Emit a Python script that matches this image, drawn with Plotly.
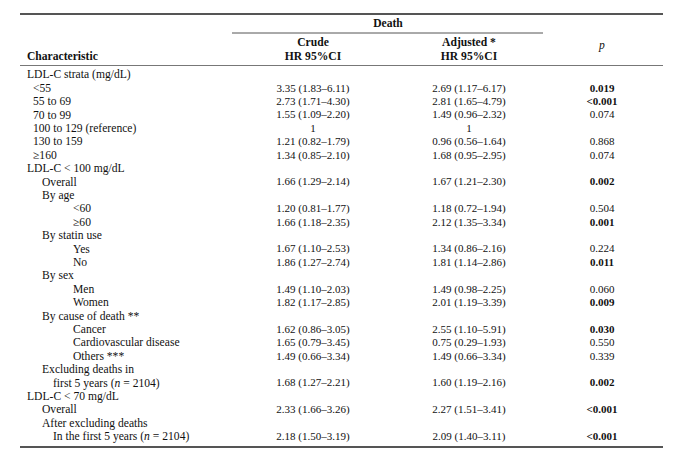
import plotly.graph_objects as go

# table content
characteristic = [
    "LDL-C strata (mg/dL)", "<55", "55 to 69", "70 to 99", "100 to 129 (reference)",
    "130 to 159", "≥160", "LDL-C < 100 mg/dL", "Overall", "By age", "<60", "≥60",
    "By statin use", "Yes", "No", "By sex", "Men", "Women", "By cause of death **",
    "Cancer", "Cardiovascular disease", "Others ***", "Excluding deaths in",
    "first 5 years (<i>n</i> = 2104)", "LDL-C < 70 mg/dL", "Overall",
    "After excluding deaths", "In the first 5 years (<i>n</i> = 2104)",
]
indent = [0, 1, 1, 1, 1, 1, 1, 0, 2, 2, 4, 4, 2, 4, 4, 2, 4, 4, 2, 4, 4, 4, 2, 3, 0, 2, 2, 3]
crude = [
    "", "3.35 (1.83–6.11)", "2.73 (1.71–4.30)", "1.55 (1.09–2.20)", "1",
    "1.21 (0.82–1.79)", "1.34 (0.85–2.10)", "", "1.66 (1.29–2.14)", "",
    "1.20 (0.81–1.77)", "1.66 (1.18–2.35)", "", "1.67 (1.10–2.53)", "1.86 (1.27–2.74)",
    "", "1.49 (1.10–2.03)", "1.82 (1.17–2.85)", "", "1.62 (0.86–3.05)",
    "1.65 (0.79–3.45)", "1.49 (0.66–3.34)", "", "1.68 (1.27–2.21)", "",
    "2.33 (1.66–3.26)", "", "2.18 (1.50–3.19)",
]
adjusted = [
    "", "2.69 (1.17–6.17)", "2.81 (1.65–4.79)", "1.49 (0.96–2.32)", "1",
    "0.96 (0.56–1.64)", "1.68 (0.95–2.95)", "", "1.67 (1.21–2.30)", "",
    "1.18 (0.72–1.94)", "2.12 (1.35–3.34)", "", "1.34 (0.86–2.16)", "1.81 (1.14–2.86)",
    "", "1.49 (0.98–2.25)", "2.01 (1.19–3.39)", "", "2.55 (1.10–5.91)",
    "0.75 (0.29–1.93)", "1.49 (0.66–3.34)", "", "1.60 (1.19–2.16)", "",
    "2.27 (1.51–3.41)", "", "2.09 (1.40–3.11)",
]
p_value = [
    "", "0.019", "<0.001", "0.074", "", "0.868", "0.074", "", "0.002", "",
    "0.504", "0.001", "", "0.224", "0.011", "", "0.060", "0.009", "",
    "0.030", "0.550", "0.339", "", "0.002", "", "<0.001", "", "<0.001",
]
significant = [p != "" and (p.startswith("<") or float(p) < 0.05) for p in p_value]

# layout in page-pixel units (the page body adds an 8px margin)
page_off = 8
indent_x = {0: 27, 1: 33, 2: 42, 3: 53, 4: 73}
col_crude, col_adj, col_p = 313, 469, 602
row0, row_step = 75.5, 13.4
rows_y = [row0 + i * row_step for i in range(len(characteristic))]

font_family = "Liberation Serif"
ink = "#111111"
label_size, value_size = 11.6, 11

fig = go.Figure()

fig.add_trace(go.Scatter(
    x=[indent_x[k] for k in indent], y=rows_y, text=characteristic,
    mode="text", textposition="middle right",
    textfont=dict(family=font_family, size=label_size, color=ink), hoverinfo="skip"))

for col, vals in [(col_crude, crude), (col_adj, adjusted)]:
    fig.add_trace(go.Scatter(
        x=[col] * len(vals), y=rows_y, text=vals, mode="text",
        textposition="middle center",
        textfont=dict(family=font_family, size=value_size, color=ink), hoverinfo="skip"))

p_text = [f"<b>{p}</b>" if s else p for p, s in zip(p_value, significant)]
fig.add_trace(go.Scatter(
    x=[col_p] * len(p_text), y=rows_y, text=p_text, mode="text",
    textposition="middle center",
    textfont=dict(family=font_family, size=value_size, color=ink), hoverinfo="skip"))

# header
headers = [
    ("<b>Death</b>", 388, 24, "middle center"),
    ("<b>Crude</b>", col_crude, 43, "middle center"),
    ("<b>HR 95%CI</b>", col_crude, 57, "middle center"),
    ("<b>Adjusted *</b>", col_adj, 43, "middle center"),
    ("<b>HR 95%CI</b>", col_adj, 57, "middle center"),
    ("<i>p</i>", col_p, 46, "middle center"),
    ("<b>Characteristic</b>", 27, 57, "middle right"),
]
for txt, hx, hy, pos in headers:
    fig.add_trace(go.Scatter(
        x=[hx], y=[hy], text=[txt], mode="text", textposition=pos,
        textfont=dict(family=font_family, size=label_size, color=ink), hoverinfo="skip"))

# rules
rules = [
    (20, 663, 14, 2.2, "#555555"),
    (232, 543, 33, 1, "#555555"),
    (20, 663, 65.5, 1, "#777777"),
    (20, 663, 447, 2.2, "#555555"),
]
for x0, x1, yy, w, c in rules:
    fig.add_shape(type="line", xref="x", yref="y", x0=x0, x1=x1, y0=yy, y1=yy,
                  line=dict(color=c, width=w))

fig.update_layout(
    width=680, height=450, showlegend=False,
    margin=dict(l=0, r=0, t=0, b=0),
    paper_bgcolor="white", plot_bgcolor="white",
)
fig.update_xaxes(range=[page_off, 680 + page_off], visible=False, fixedrange=True)
fig.update_yaxes(range=[450 + page_off, page_off], visible=False, fixedrange=True)

fig.write_html("out.html")
